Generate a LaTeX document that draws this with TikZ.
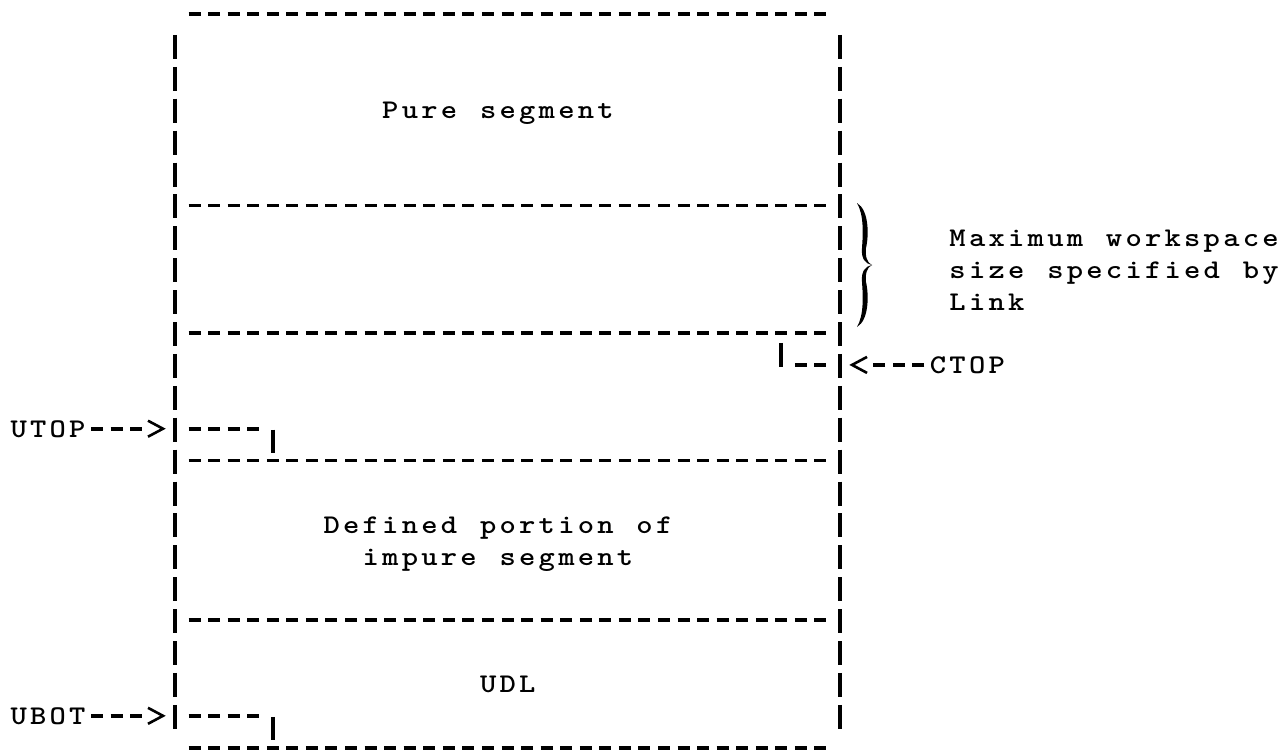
\documentclass[tikz,border=0pt]{standalone}
\usepackage{graphicx}
\usetikzlibrary{calc}
\ExplSyntaxOn
\NewDocumentCommand \tw { m }
  { \str_map_inline:nn {#1} { \makebox[19.56pt][c]{\scalebox{1.15}[1]{##1}} } }
\ExplSyntaxOff
\tikzset{
  declare function={cx(\k)=175+\k*19.56; ry(\i)=14+31.9*\i;},
  hdash/.style={line width=3.6pt, dash pattern=on 12pt off 7.56pt},
  vbar/.style={line width=3.8pt, dash pattern=on 24pt off 7.9pt},
  tick/.style={line width=3.8pt},
  chev/.style={line width=2.6pt, line join=miter},
  lbl/.style={anchor=base west, inner sep=0pt, font=\ttfamily\bfseries\fontsize{27pt}{30pt}\selectfont},
}
\begin{document}
\begin{tikzpicture}[x=1pt,y=-1pt]
\useasboundingbox (0,0) rectangle (1287,750);
% horizontal dashed rules
\foreach \r in {0,6,10,14,19,23}
  \draw[hdash] ({cx(1)-6},{ry(\r)}) -- ({cx(33)+6},{ry(\r)});
% vertical sides
\draw[vbar] ({cx(0)},{ry(1)-11}) -- ({cx(0)},{ry(22)+13});
\draw[vbar] ({cx(34)},{ry(1)-11}) -- ({cx(34)},{ry(22)+13});
% reference coordinates on the sides
\coordinate (lb13) at ({cx(0)},{ry(13)});
\coordinate (lb22) at ({cx(0)},{ry(22)});
\coordinate (rb11) at ({cx(34)},{ry(11)});
% labels
\node[lbl] (pure) at ({cx(10.5)},{ry(3)+9}) {\tw{Pure segment}};
\node[lbl] (max1) at ({cx(39.5)},{ry(7)+9}) {\tw{Maximum workspace}};
\node[lbl] (max2) at ({cx(39.5)},{ry(8)+9}) {\tw{size specified by}};
\node[lbl] (max3) at ({cx(39.5)},{ry(9)+9}) {\tw{Link}};
\node[lbl] (ctop) at ({cx(38.5)},{ry(11)+9}) {\tw{CTOP}};
\node[lbl] (utop) at ({cx(-8.5)},{ry(13)+9}) {\tw{UTOP}};
\node[lbl] (def1) at ({cx(7.5)},{ry(16)+9}) {\tw{Defined portion of}};
\node[lbl] (def2) at ({cx(9.5)},{ry(17)+9}) {\tw{impure segment}};
\node[lbl] (udl) at ({cx(15.5)},{ry(21)+9}) {\tw{UDL}};
\node[lbl] (ubot) at ({cx(-8.5)},{ry(22)+9}) {\tw{UBOT}};
% pointers
\draw[hdash, shorten <=3.78pt, shorten >=33.1pt] (utop.east |- lb13) -- (lb13);
\draw[chev] ($(lb13)+(-27,-8)$) -- ($(lb13)+(-12,0)$) -- ($(lb13)+(-27,8)$);
\draw[hdash, shorten <=3.78pt, shorten >=33.1pt] (ubot.east |- lb22) -- (lb22);
\draw[chev] ($(lb22)+(-27,-8)$) -- ($(lb22)+(-12,0)$) -- ($(lb22)+(-27,8)$);
\draw[hdash, shorten <=3.78pt, shorten >=33.2pt] (ctop.west |- rb11) -- (rb11);
\draw[chev] ($(rb11)+(27,-8)$) -- ($(rb11)+(12,0)$) -- ($(rb11)+(27,8)$);
% CTOP mark
\draw[hdash] ({cx(32)-6},{ry(11)}) -- ({cx(33)+6},{ry(11)});
\draw[tick] ({cx(31)},{ry(11)-22}) -- ({cx(31)},{ry(11)+2});
% UTOP and UBOT marks
\draw[hdash] ({cx(1)-6},{ry(13)}) -- ({cx(4)+6},{ry(13)});
\draw[tick] ({cx(5)},{ry(13)+1}) -- ({cx(5)},{ry(13)+24});
\draw[hdash] ({cx(1)-6},{ry(22)}) -- ({cx(4)+6},{ry(22)});
\draw[tick] ({cx(5)},{ry(22)+1}) -- ({cx(5)},{ry(22)+24});
% brace
\begin{scope}[shift={(0,265)}]
\fill (857,-62) .. controls (869,-55) and (869,-30) .. (866,-17)
  .. controls (865,-9) and (867,-2) .. (872,0)
  .. controls (865,-1) and (861,-7) .. (862,-17)
  .. controls (863,-31) and (864,-50) .. (857,-62) -- cycle;
\begin{scope}[yscale=-1]
\fill (857,-62) .. controls (869,-55) and (869,-30) .. (866,-17)
  .. controls (865,-9) and (867,-2) .. (872,0)
  .. controls (865,-1) and (861,-7) .. (862,-17)
  .. controls (863,-31) and (864,-50) .. (857,-62) -- cycle;
\end{scope}
\end{scope}
\end{tikzpicture}
\end{document}
